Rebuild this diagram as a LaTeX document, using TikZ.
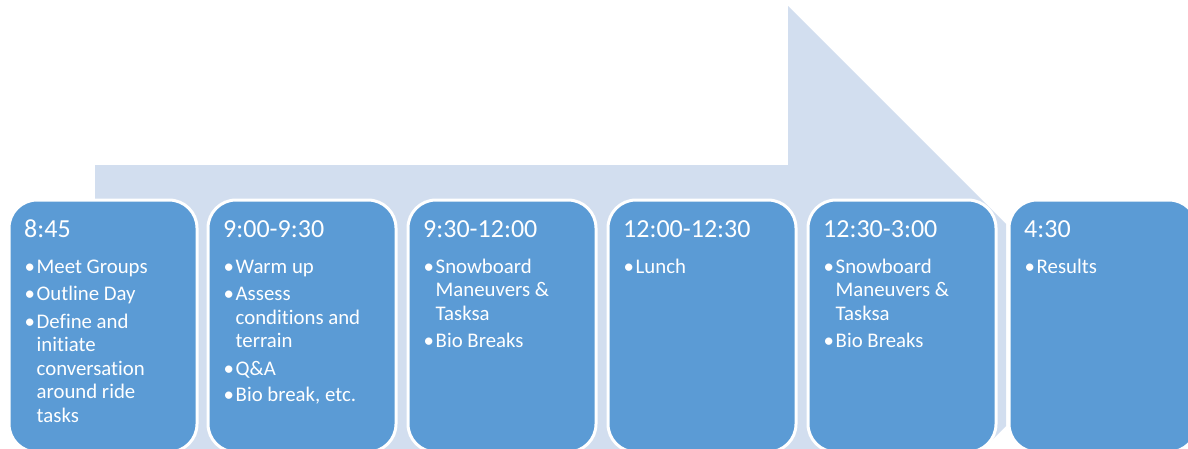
\documentclass[tikz,border=0pt]{standalone}
\usepackage{fontspec}
\setmainfont{Carlito}[Ligatures={NoCommon}]
\definecolor{boxblue}{RGB}{91,155,213}
\definecolor{arrowblue}{RGB}{210,222,239}
% bullet line: name, box left, baseline, text
\newcommand\bl[4]{\node[ln] (#1d) at (#2+18.5,#3) {•};\node[ln] (#1) at (#2+30.5,#3) {#4};}
% continuation line
\newcommand\cl[4]{\node[ln] (#1) at (#2+30.5,#3) {#4};}
\begin{document}
\begin{tikzpicture}[x=1pt,y=-1pt,
  tbox/.style={draw=white, line width=3pt, fill=boxblue, rounded corners=28pt,
    minimum width=188pt, minimum height=252pt, anchor=north west, inner sep=0pt},
  ttl/.style={anchor=base west, inner sep=0pt, text=white, font=\fontsize{26}{30}\selectfont},
  ln/.style={anchor=base west, inner sep=0pt, text=white, font=\fontsize{20.8}{23.5}\selectfont}]
\useasboundingbox (0,0) rectangle (1188,448);
\clip (0,0) rectangle (1188,448);
% background arrow
\fill[arrowblue] (95,165) -- (788,165) -- (788,6) -- (1006,224) -- (1006,426)
  -- (960,472) -- (95,472) -- cycle;
% boxes
\foreach \L [count=\i] in {6,205,405,605,805,1006}{
  \node[tbox] (box\i) at (\L+1.5,198.5) {};
}
% titles
\node[ttl] (t1) at (24,237) {8:45};
\node[ttl] (t2) at (223,237) {9:00-9:30};
\node[ttl] (t3) at (423,237) {9:30-12:00};
\node[ttl] (t4) at (623,237) {12:00-12:30};
\node[ttl] (t5) at (823,237) {12:30-3:00};
\node[ttl] (t6) at (1024,237) {4:30};
% box 1
\bl{a1}{6}{273}{Meet Groups}
\bl{a2}{6}{300.5}{Outline Day}
\bl{a3}{6}{328}{Define and}
\cl{a4}{6}{351.5}{initiate}
\cl{a5}{6}{375}{conversation}
\cl{a6}{6}{398.5}{around ride}
\cl{a7}{6}{422}{tasks}
% box 2
\bl{b1}{205}{273}{Warm up}
\bl{b2}{205}{300.5}{Assess}
\cl{b3}{205}{324}{conditions and}
\cl{b4}{205}{347.5}{terrain}
\bl{b5}{205}{375}{Q\&A}
\bl{b6}{205}{401}{Bio break, etc.}
% box 3
\bl{c1}{405}{273}{Snowboard}
\cl{c2}{405}{296.5}{Maneuvers \&}
\cl{c3}{405}{320}{Tasksa}
\bl{c4}{405}{347}{Bio Breaks}
% box 4
\bl{d1}{605}{273}{Lunch}
% box 5
\bl{e1}{805}{273}{Snowboard}
\cl{e2}{805}{296.5}{Maneuvers \&}
\cl{e3}{805}{320}{Tasksa}
\bl{e4}{805}{347}{Bio Breaks}
% box 6
\bl{f1}{1006}{273}{Results}
\end{tikzpicture}
\end{document}
